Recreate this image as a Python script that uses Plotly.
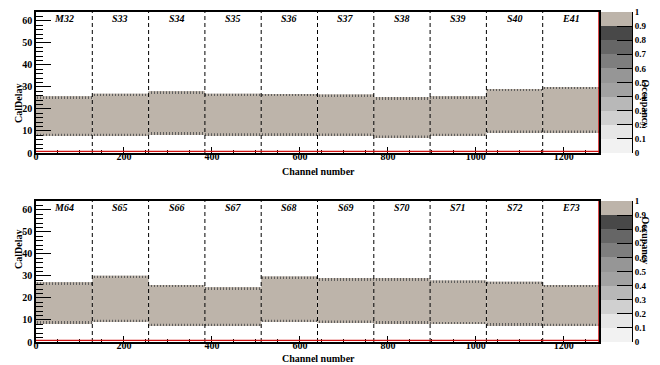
import plotly.graph_objects as go

W, H = 660, 365

channels_per_module = 128
modules_top = ["M32", "S33", "S34", "S35", "S36", "S37", "S38", "S39", "S40", "E41"]
low_top = [7.8, 7.8, 8.6, 8.1, 8.1, 8.0, 7.1, 7.8, 9.3, 9.3]
high_top = [25.8, 26.9, 28.0, 26.9, 26.8, 26.6, 25.4, 25.8, 29.1, 30.0]

modules_bot = ["M64", "S65", "S66", "S67", "S68", "S69", "S70", "S71", "S72", "E73"]
low_bot = [8.6, 9.2, 7.4, 7.4, 9.2, 8.9, 8.6, 8.2, 7.7, 7.4]
high_bot = [27.1, 30.1, 25.9, 24.9, 29.7, 29.0, 29.0, 27.9, 27.4, 25.9]

occupancy = 0.95
x_ticks = [0, 200, 400, 600, 800, 1000, 1200]
y_ticks = [0, 10, 20, 30, 40, 50, 60]
z_ticks = [0, 0.1, 0.2, 0.3, 0.4, 0.5, 0.6, 0.7, 0.8, 0.9, 1]
palette = ["#f2f2f2", "#e6e6e6", "#d0d0d0", "#b8b8b8", "#a2a2a2",
           "#969696", "#7e7e7e", "#666666", "#484848", "#bdb4aa"]
edge_thickness = 0.9

XMAX = channels_per_module * len(modules_top)
YMAX = 64

FONT = "Liberation Serif"

PL, PR = 36, 599          # plot frame, pixels
CB_L, CB_R = 601, 632     # palette, pixels
panels = [(12, 153), (201, 342)]

def fy(p):
    return 1 - p / H

def fx(p):
    return p / W

colorscale = []
for i, c in enumerate(palette):
    colorscale.append([i / 10, c])
    colorscale.append([(i + 1) / 10, c])

bin_centers = [(a + b) / 2 for a, b in zip(z_ticks[:-1], z_ticks[1:])]

fig = go.Figure()
tick_font = dict(family=FONT, size=10, color="black", weight="bold")

for k, (mods, lo, hi) in enumerate([(modules_top, low_top, high_top),
                                      (modules_bot, low_bot, high_bot)]):
    xs, ys = ("", "") if k == 0 else ("2", "2")
    xp, yp = ("3", "3") if k == 0 else ("4", "4")
    top, bot = panels[k]
    centers = [channels_per_module * (i + 0.5) for i in range(len(mods))]
    widths = [channels_per_module] * len(mods)

    fig.add_trace(go.Bar(
        x=centers, y=[h - l for h, l in zip(hi, lo)], base=lo, width=widths,
        marker=dict(color=[occupancy] * len(mods), colorscale=colorscale,
                    cmin=0, cmax=1, line=dict(width=0)),
        xaxis="x" + xs, yaxis="y" + ys, showlegend=False, hoverinfo="skip"))
    for base_vals in ([h - edge_thickness for h in hi], lo):
        fig.add_trace(go.Bar(
            x=centers, y=[edge_thickness] * len(mods), base=base_vals, width=widths,
            marker=dict(color=palette[-1], line=dict(width=0),
                        pattern=dict(shape="|", fgcolor="#555555", bgcolor=palette[-1],
                                     size=3, solidity=0.3, fillmode="replace")),
            xaxis="x" + xs, yaxis="y" + ys, showlegend=False, hoverinfo="skip"))

    # palette (z scale)
    fig.add_trace(go.Heatmap(
        x=[0], y=bin_centers, z=[[v] for v in bin_centers],
        colorscale=colorscale, zmin=0, zmax=1, showscale=False,
        xaxis="x" + xp, yaxis="y" + yp, hoverinfo="skip"))

    fig.layout["xaxis" + xs] = dict(
        domain=[fx(PL), fx(PR)], range=[0, XMAX], tickvals=x_ticks,
        ticks="inside", ticklen=6, tickwidth=1, tickcolor="black",
        minor=dict(dtick=50, ticks="inside", ticklen=3, tickcolor="black"),
        showline=True, linecolor="black", linewidth=1.5, mirror=True,
        showgrid=False, zeroline=False, automargin=False, ticklabelstandoff=-7,
        tickfont=tick_font, anchor="y" + ys)
    fig.layout["yaxis" + ys] = dict(
        domain=[fy(bot), fy(top)], range=[0, YMAX], tickvals=y_ticks,
        ticks="inside", ticklen=15, tickwidth=1.2, tickcolor="black",
        minor=dict(dtick=2, ticks="inside", ticklen=7, tickcolor="black"),
        showline=True, linecolor="black", linewidth=1.5, mirror=True,
        showgrid=False, zeroline=False, automargin=False,
        tickfont=tick_font, anchor="x" + xs)
    fig.layout["xaxis" + xp] = dict(
        domain=[fx(CB_L), fx(CB_R)], range=[-0.5, 0.5], visible=False,
        anchor="y" + yp)
    fig.layout["yaxis" + yp] = dict(
        domain=[fy(bot), fy(top)], range=[0, 1], side="right",
        tickvals=z_ticks, ticktext=[str(v) for v in z_ticks],
        ticks="inside", ticklen=15, tickwidth=1.2, tickcolor="black",
        showline=True, linecolor="black", linewidth=1, showgrid=False,
        zeroline=False, automargin=False, ticklabelstandoff=0,
        tickfont=dict(family=FONT, size=9, color="black", weight="bold"),
        anchor="x" + xp)

    xref, yref = "x" + xs, "y" + ys
    for i in range(1, len(mods)):
        fig.add_shape(type="line", xref=xref, yref=yref,
                      x0=i * channels_per_module, x1=i * channels_per_module,
                      y0=0, y1=YMAX, line=dict(color="black", width=1, dash="4px,3px"))
    for i, m in enumerate(mods):
        fig.add_annotation(x=channels_per_module * (i + 0.5), y=61, xref=xref, yref=yref,
                           text="<b><i>%s</i></b>" % m, showarrow=False,
                           font=dict(family=FONT, size=10, color="black"))
    fig.add_shape(type="line", xref=xref, yref=yref, x0=0, x1=XMAX, y0=0.7, y1=0.7,
                  line=dict(color="#d01010", width=1.2))
    fig.add_shape(type="line", xref=xref, yref=yref, x0=XMAX, x1=XMAX, y0=0, y1=YMAX,
                  line=dict(color="#d01010", width=1.5))
    fig.add_annotation(x=fx(11), y=fy(top + 70), xref="paper", yref="paper",
                       text="<b>CalDelay</b>", textangle=-90, showarrow=False,
                       font=dict(family=FONT, size=10, color="black"))
    fig.add_annotation(x=fx(318), y=fy(min(bot + 25, H)), xref="paper", yref="paper",
                       yanchor="bottom", borderpad=0,
                       text="<b>Channel number</b>", showarrow=False,
                       font=dict(family=FONT, size=10, color="black"))
    fig.add_annotation(x=fx(653), y=fy(top + 65), xref="paper", yref="paper",
                       text="<b>Occupancy</b>", textangle=90, showarrow=False,
                       font=dict(family=FONT, size=10, color="black"))

fig.update_layout(width=W, height=H,
                  margin=dict(l=0, r=0, t=0, b=0, autoexpand=False),
                  paper_bgcolor="white", plot_bgcolor="white", barmode="overlay",
                  showlegend=False)

fig.write_html("out.html", config={"displayModeBar": False},
               post_script="document.body.style.margin='0px';document.body.style.overflow='hidden';")
